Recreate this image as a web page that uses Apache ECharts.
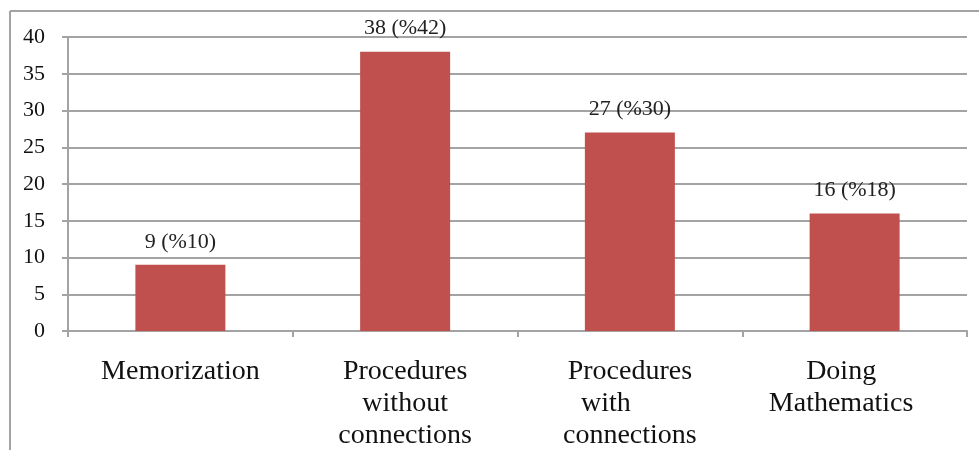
<!DOCTYPE html>
<html>
<head>
<meta charset="utf-8">
<script src="https://cdn.jsdelivr.net/npm/echarts@6/dist/echarts.min.js"></script>
<style>html,body{margin:0;padding:0;background:#fff;}#c{width:979px;height:450px;}</style>
</head>
<body>
<div id="c"></div>
<script>
const categories = ['Memorization', 'Procedures\nwithout\nconnections', 'Procedures\nwith\nconnections', 'Doing\nMathematics'];
const counts = [9, 38, 27, 16];
const percents = [10, 42, 30, 18];
const yTicks = [0, 5, 10, 15, 20, 25, 30, 35, 40];

const chart = echarts.init(document.getElementById('c'), null, {renderer: 'canvas'});
const serif = '"Liberation Serif", "DejaVu Serif", serif';
const gray = '#a3a3a3';

function catFormatter(v, i) {
  const lines = v.split('\n');
  if (i === 2) return '{n|' + lines[0] + '}\n{w|' + lines[1] + '}\n{n|' + lines[2] + '}';
  if (i === 3) return lines.map(l => '{d|' + l + '}').join('\n');
  return lines.map(l => '{n|' + l + '}').join('\n');
}

chart.setOption({
  animation: false,
  backgroundColor: '#fff',
  graphic: [
    {type: 'line', shape: {x1: 10, y1: 11, x2: 979, y2: 11}, style: {stroke: gray, lineWidth: 2}},
    {type: 'line', shape: {x1: 10, y1: 11, x2: 10, y2: 450}, style: {stroke: gray, lineWidth: 2}}
  ],
  grid: {left: 68, right: 12, top: 37, bottom: 118},
  xAxis: {
    type: 'category',
    data: categories,
    axisLine: {lineStyle: {color: gray, width: 2}},
    axisTick: {show: true, length: 6, lineStyle: {color: gray, width: 2}},
    axisLabel: {
      margin: 25,
      formatter: catFormatter,
      rich: {
        n: {fontFamily: serif, fontSize: 28, lineHeight: 32, color: '#111'},
        w: {fontFamily: serif, fontSize: 28, lineHeight: 32, color: '#111', padding: [0, 48, 0, 0]},
        d: {fontFamily: serif, fontSize: 28, lineHeight: 32, color: '#111', padding: [0, 27, 0, 0]}
      }
    }
  },
  yAxis: {
    type: 'value',
    min: yTicks[0],
    max: yTicks[yTicks.length - 1],
    interval: 5,
    axisLine: {show: true, lineStyle: {color: gray, width: 2}},
    axisTick: {show: true, length: 6, lineStyle: {color: gray, width: 2}},
    axisLabel: {margin: 23, fontFamily: serif, fontSize: 22, color: '#111'},
    splitLine: {show: true, lineStyle: {color: gray, width: 2}}
  },
  series: [{
    type: 'bar',
    data: counts,
    barWidth: 90,
    itemStyle: {color: '#C0504D'},
    label: {
      show: true,
      position: 'top',
      distance: 12,
      fontFamily: serif,
      fontSize: 22,
      color: '#222',
      formatter: p => p.value + ' (%' + percents[p.dataIndex] + ')'
    }
  }]
});
</script>
</body>
</html>
